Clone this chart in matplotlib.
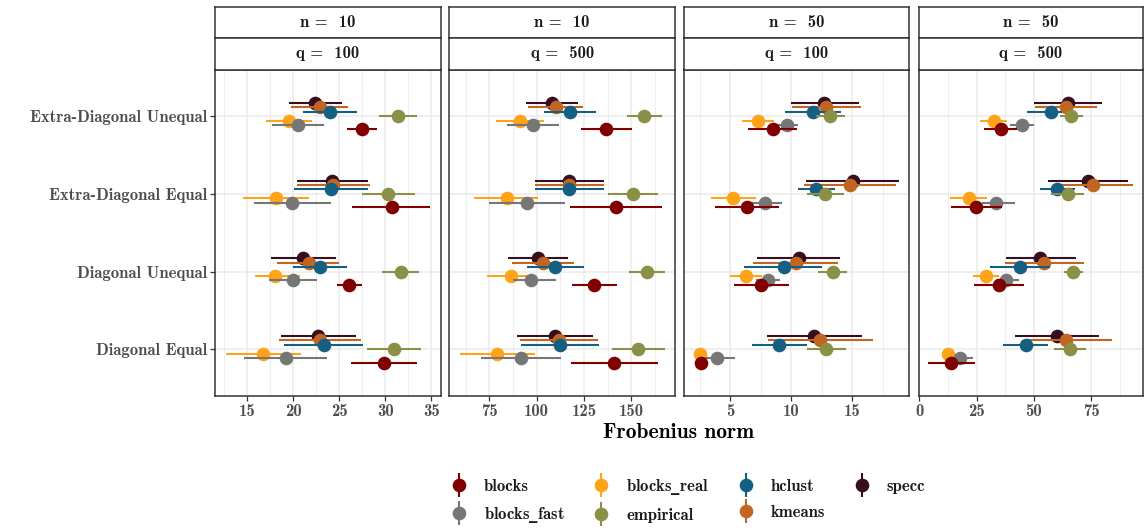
import matplotlib
matplotlib.use("Agg")
import matplotlib.pyplot as plt
from matplotlib.lines import Line2D
from matplotlib.legend_handler import HandlerTuple
from matplotlib.ticker import MultipleLocator
import numpy as np

FONT = ['cmb10', 'DejaVu Serif']
plt.rcParams['font.family'] = FONT
plt.rcParams['mathtext.fontset'] = 'dejavuserif'
plt.rcParams['mathtext.default'] = 'bf'

categories = ["Diagonal Equal", "Diagonal Unequal", "Extra-Diagonal Equal", "Extra-Diagonal Unequal"]
methods = ["blocks", "blocks_fast", "blocks_real", "empirical", "hclust", "kmeans", "specc"]
colors = ["#800000", "#767676", "#FFA319", "#8A9045", "#155F83", "#C16622", "#350E20"]
n_labels = ["n =  10", "n =  10", "n =  50", "n =  50"]
q_labels = ["q =  100", "q =  500", "q =  100", "q =  500"]

# rows: methods; columns: categories (DE, DU, EE, EU)
p1_mid = [[29.9, 26.1, 30.7, 27.5], [19.2, 20.0, 19.9, 20.5], [16.7, 18.0, 18.1, 19.5],
          [30.9, 31.7, 30.3, 31.4], [23.3, 22.9, 24.1, 24.0], [22.9, 21.7, 24.3, 22.9],
          [22.7, 21.1, 24.2, 22.4]]
p1_lo = [[26.3, 24.8, 26.4, 25.9], [14.7, 17.4, 15.7, 17.7], [12.7, 15.9, 14.6, 17.0],
         [28.0, 29.6, 27.5, 29.3], [19.0, 20.0, 20.1, 21.1], [18.5, 18.2, 20.4, 19.8],
         [18.7, 17.6, 20.4, 19.6]]
p1_hi = [[33.4, 27.5, 34.9, 29.1], [23.7, 22.6, 24.1, 23.4], [20.8, 20.7, 21.7, 22.1],
         [33.9, 33.7, 33.2, 33.5], [27.6, 25.9, 28.1, 26.9], [27.4, 25.0, 28.3, 26.0],
         [26.8, 24.6, 28.1, 25.3]]

p2_mid = [[141.1, 130.5, 142.0, 136.9], [91.8, 97.3, 94.8, 98.2], [79.2, 86.3, 84.2, 91.3],
          [153.7, 158.3, 150.7, 156.7], [112.5, 109.8, 117.3, 117.8], [111.8, 103.3, 117.3, 110.0],
          [109.7, 100.5, 117.3, 108.2]]
p2_lo = [[118.2, 118.9, 117.8, 123.6], [70.9, 87.4, 74.8, 84.6], [59.4, 73.7, 67.2, 78.7],
         [139.9, 148.9, 137.6, 147.5], [91.8, 94.8, 99.2, 104.0], [91.3, 86.8, 98.9, 95.7],
         [89.9, 84.7, 98.9, 94.4]]
p2_hi = [[164.2, 142.4, 166.1, 150.4], [112.7, 110.0, 115.1, 111.8], [98.9, 98.9, 101.0, 103.7],
         [167.9, 167.9, 164.2, 166.1], [133.0, 125.2, 135.5, 131.3], [132.3, 119.6, 135.5, 124.5],
         [130.0, 116.7, 135.5, 121.9]]

p3_mid = [[2.58, 7.54, 6.35, 8.47], [3.93, 8.06, 7.81, 9.66], [2.55, 6.30, 5.22, 7.31],
          [12.88, 13.40, 12.77, 13.21], [9.00, 9.36, 12.06, 11.75], [12.36, 10.35, 14.79, 12.88],
          [11.89, 10.62, 15.03, 12.72]]
p3_lo = [[2.07, 5.30, 3.71, 6.46], [2.93, 7.07, 6.24, 8.72], [2.00, 4.98, 3.40, 5.99],
         [11.28, 12.19, 11.26, 12.02], [6.77, 6.16, 10.54, 9.46], [8.09, 6.85, 11.01, 10.04],
         [8.03, 7.21, 11.20, 9.96]]
p3_hi = [[3.15, 9.77, 9.02, 10.45], [5.41, 9.08, 9.27, 10.57], [3.07, 7.62, 7.10, 8.61],
         [14.45, 14.54, 14.29, 14.40], [11.28, 12.52, 13.60, 14.04], [16.69, 13.82, 18.55, 15.69],
         [15.78, 14.01, 18.86, 15.53]]

p4_mid = [[14.0, 34.9, 24.8, 35.6], [17.7, 37.9, 33.6, 44.7], [12.6, 29.1, 21.6, 32.6],
          [65.8, 67.3, 64.8, 66.4], [46.4, 43.9, 60.3, 57.5], [64.1, 54.6, 75.9, 64.1],
          [60.3, 52.9, 73.6, 64.8]]
p4_lo = [[3.8, 23.9, 13.9, 28.2], [14.3, 33.3, 27.4, 39.6], [9.9, 23.4, 13.3, 26.7],
         [58.8, 63.2, 57.4, 61.5], [36.5, 30.7, 52.7, 46.9], [46.4, 37.4, 61.0, 50.5],
         [42.0, 37.9, 56.2, 50.1]]
p4_hi = [[24.4, 45.9, 35.9, 42.8], [23.3, 43.5, 41.6, 49.9], [15.5, 35.0, 29.6, 38.5],
         [73.0, 71.3, 72.1, 71.3], [56.4, 57.2, 67.9, 62.5], [84.1, 71.9, 93.2, 77.8],
         [78.5, 68.2, 91.1, 79.6]]

panels = [(p1_mid, p1_lo, p1_hi), (p2_mid, p2_lo, p2_hi), (p3_mid, p3_lo, p3_hi), (p4_mid, p4_lo, p4_hi)]
xlims = [(11.55, 36.02), (53.9, 173.1), (1.23, 19.67), (-0.26, 97.8)]
xmajor = [5, 25, 5, 25]

W, H = 1144, 531
fig = plt.figure(figsize=(W / 100, H / 100), dpi=100)

px_edges = [(215.3, 440.7), (449.3, 675.0), (684.3, 909.3), (918.7, 1143.3)]
plot_top, plot_bot = 69.5, 396.0
strip1_top, strip_mid = 6.5, 38.0

dodge = 0.057
border_col = "#333333"
tick_col = "#4D4D4D"
fs = 12

for k, (mid, lo, hi) in enumerate(panels):
    x0, x1 = px_edges[k]
    ax = fig.add_axes([x0 / W, 1 - plot_bot / H, (x1 - x0) / W, (plot_bot - plot_top) / H])
    ax.set_xlim(*xlims[k])
    ax.set_ylim(0.4, 4.6)
    ax.xaxis.set_major_locator(MultipleLocator(xmajor[k]))
    ax.xaxis.set_minor_locator(MultipleLocator(xmajor[k] / 2))
    ax.set_yticks(np.arange(1, len(categories) + 1))
    ax.grid(True, which='major', color='#EBEBEB', lw=1.1, zorder=0)
    ax.grid(True, which='minor', axis='x', color='#EBEBEB', lw=0.6, zorder=0)
    ax.set_axisbelow(True)
    for s in ax.spines.values():
        s.set_color(border_col)
        s.set_linewidth(1.1)
    ax.tick_params(which='major', length=3.5, width=0.9, color=border_col,
                   labelsize=fs, labelcolor=tick_col, pad=2.5)
    ax.tick_params(which='minor', length=0)
    if k == 0:
        ax.set_yticklabels(categories)
    else:
        ax.tick_params(axis='y', left=False, labelleft=False)
    for t in ax.get_xticklabels() + ax.get_yticklabels():
        t.set_fontfamily(FONT)

    ycat = np.arange(1, len(categories) + 1)
    for i in reversed(range(len(methods))):
        m = np.array(mid[i]); l = np.array(lo[i]); h = np.array(hi[i])
        y = ycat + (i - 3) * dodge
        ax.errorbar(m, y, xerr=[m - l, h - m], fmt='o', color=colors[i], ms=8.8,
                    elinewidth=1.5, capsize=0, zorder=3 + (6 - i))

    # strips
    for (ta, tb, lab) in [(strip1_top, strip_mid, n_labels[k]), (strip_mid, plot_top, q_labels[k])]:
        sax = fig.add_axes([x0 / W, 1 - tb / H, (x1 - x0) / W, (tb - ta) / H])
        sax.set_xticks([]); sax.set_yticks([])
        sax.set_facecolor('white')
        for s in sax.spines.values():
            s.set_color(border_col)
            s.set_linewidth(1.1)
        sax.text(0.5, 0.5, lab, ha='center', va='center', fontsize=fs, color='#1A1A1A',
                 transform=sax.transAxes, family=FONT)

fig.text(679 / W, 1 - 433 / H, "Frobenius norm", ha='center', va='center', fontsize=15.5,
         color='black', family=FONT)

handles = []
for c in colors:
    handles.append((Line2D([], [], color=c, marker='|', ms=17, mew=1.5, ls='none'),
                    Line2D([], [], color=c, marker='o', ms=8.8, ls='none')))
labels = [m.replace('_', r'$\_$') for m in methods]
leg = fig.legend(handles, labels, ncol=4, loc='center', bbox_to_anchor=(688 / W, 1 - 501 / H),
                 frameon=False, handler_map={tuple: HandlerTuple(ndivide=1)},
                 prop={'family': FONT, 'size': fs}, columnspacing=1.7, handletextpad=1.0,
                 handlelength=1.0, labelspacing=0.68, borderpad=0.2)
for t in leg.get_texts():
    t.set_color('#1A1A1A')

fig.savefig("out.png", dpi=100)
